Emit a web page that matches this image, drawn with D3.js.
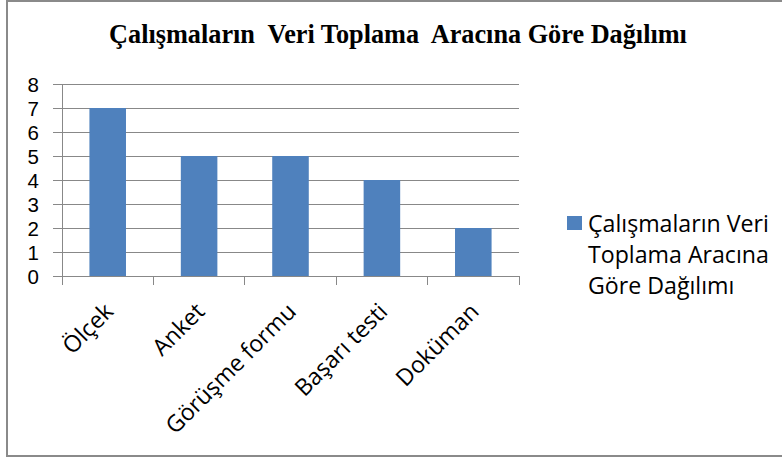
<!DOCTYPE html>
<html lang="tr">
<head>
<meta charset="UTF-8">
<title>Çalışmaların Veri Toplama Aracına Göre Dağılımı</title>
<style>
  body { margin: 0; background: #fff; }
  svg text { font-family: "Open Sans", "Noto Sans", sans-serif; fill: #000; }
  .title { font-family: "Liberation Serif", "Times New Roman", serif; font-weight: bold; white-space: pre; }
</style>
</head>
<body>
<svg id="chart" width="782" height="459"></svg>
<script src="https://cdn.jsdelivr.net/npm/d3@7"></script>
<script>
// data
const categories = ["Ölçek", "Anket", "Görüşme formu", "Başarı testi", "Doküman"];
const values = [7, 5, 5, 4, 2];
const yTicks = [0, 1, 2, 3, 4, 5, 6, 7, 8];
const seriesName = ["Çalışmaların Veri", "Toplama Aracına", "Göre Dağılımı"];
const titleText = "Çalışmaların  Veri Toplama  Aracına Göre Dağılımı";

const svg = d3.select("#chart");
const gridColor = "#888888";
const barColor = "#4F81BD";

// outer frame
svg.append("rect")
  .attr("x", 7).attr("y", 1)
  .attr("width", 778).attr("height", 455)
  .attr("fill", "#fff")
  .attr("stroke", "#8a8a8a")
  .attr("stroke-width", 2);

const plot = { left: 62, right: 519, top: 84, bottom: 276 };

const x = d3.scaleBand()
  .domain(categories)
  .range([plot.left, plot.right])
  .paddingInner(0).paddingOuter(0);

const y = d3.scaleLinear()
  .domain([0, 8])
  .range([plot.bottom, plot.top]);

// fit a font size so a string takes a given width
function fitSize(text, family, weight, target) {
  const t = svg.append("text")
    .style("font-family", family)
    .style("font-weight", weight)
    .style("white-space", "pre")
    .style("font-size", "100px")
    .text(text);
  const w = t.node().getComputedTextLength();
  t.remove();
  return 100 * target / w;
}

const labelSize = fitSize(seriesName[0], '"Open Sans"', "normal", 181);

// gridlines + y labels
const yAxis = d3.axisLeft(y)
  .tickValues(yTicks)
  .tickSize(-(plot.right - plot.left) - 9)
  .tickPadding(0)
  .tickFormat(d3.format("d"));

const gy = svg.append("g")
  .attr("transform", `translate(${plot.right},0)`)
  .call(yAxis);
gy.select(".domain").remove();
gy.selectAll(".tick line")
  .attr("x1", 0)
  .attr("x2", -(plot.right - plot.left) - 9)
  .attr("stroke", gridColor)
  .attr("shape-rendering", "crispEdges");
// Liberation Sans has a tight line box, so the big digits don't collide
gy.selectAll(".tick text")
  .attr("x", -(plot.right - 39))
  .attr("dy", "0.35em")
  .attr("text-anchor", "end")
  .style("font-size", "20.5px")
  .style("font-family", '"Liberation Sans", sans-serif')
  .attr("fill", "#000");

// y axis line
svg.append("line")
  .attr("x1", plot.left).attr("x2", plot.left)
  .attr("y1", plot.top).attr("y2", plot.bottom)
  .attr("stroke", gridColor)
  .attr("shape-rendering", "crispEdges");

// category boundary ticks
const bounds = categories.map(c => x(c)).concat([plot.right]);
svg.selectAll(".xtick")
  .data(bounds)
  .enter()
  .append("line")
  .attr("class", "xtick")
  .attr("x1", d => d).attr("x2", d => d)
  .attr("y1", plot.bottom).attr("y2", plot.bottom + 9)
  .attr("stroke", gridColor)
  .attr("shape-rendering", "crispEdges");

// bars, Excel gap width 150%
const barW = x.bandwidth() / 2.5;
svg.selectAll(".bar")
  .data(values)
  .enter()
  .append("rect")
  .attr("class", "bar")
  .attr("x", (d, i) => x(categories[i]) + (x.bandwidth() - barW) / 2)
  .attr("y", d => y(d))
  .attr("width", barW)
  .attr("height", d => y(0) - y(d))
  .attr("fill", barColor);

// category labels, rotated
svg.selectAll(".xlabel")
  .data(categories)
  .enter()
  .append("text")
  .attr("class", "xlabel")
  .attr("text-anchor", "end")
  .attr("transform", d => `translate(${x(d) + x.bandwidth() / 2 + 7},${plot.bottom + 37}) rotate(-45)`)
  .style("font-size", labelSize + "px")
  .text(d => d);

// title
const titleSize = fitSize(titleText, '"Liberation Serif"', "bold", 578);
svg.append("text")
  .attr("class", "title")
  .attr("x", 398)
  .attr("y", 43)
  .attr("text-anchor", "middle")
  .style("font-size", titleSize + "px")
  .text(titleText);

// legend
const legend = svg.append("g").attr("transform", "translate(567,216)");
legend.append("rect")
  .attr("width", 15).attr("height", 14)
  .attr("fill", barColor);
legend.selectAll("text")
  .data(seriesName)
  .enter()
  .append("text")
  .attr("x", 21)
  .attr("y", (d, i) => 16 + i * 31)
  .style("font-size", labelSize + "px")
  .text(d => d);
</script>
</body>
</html>
